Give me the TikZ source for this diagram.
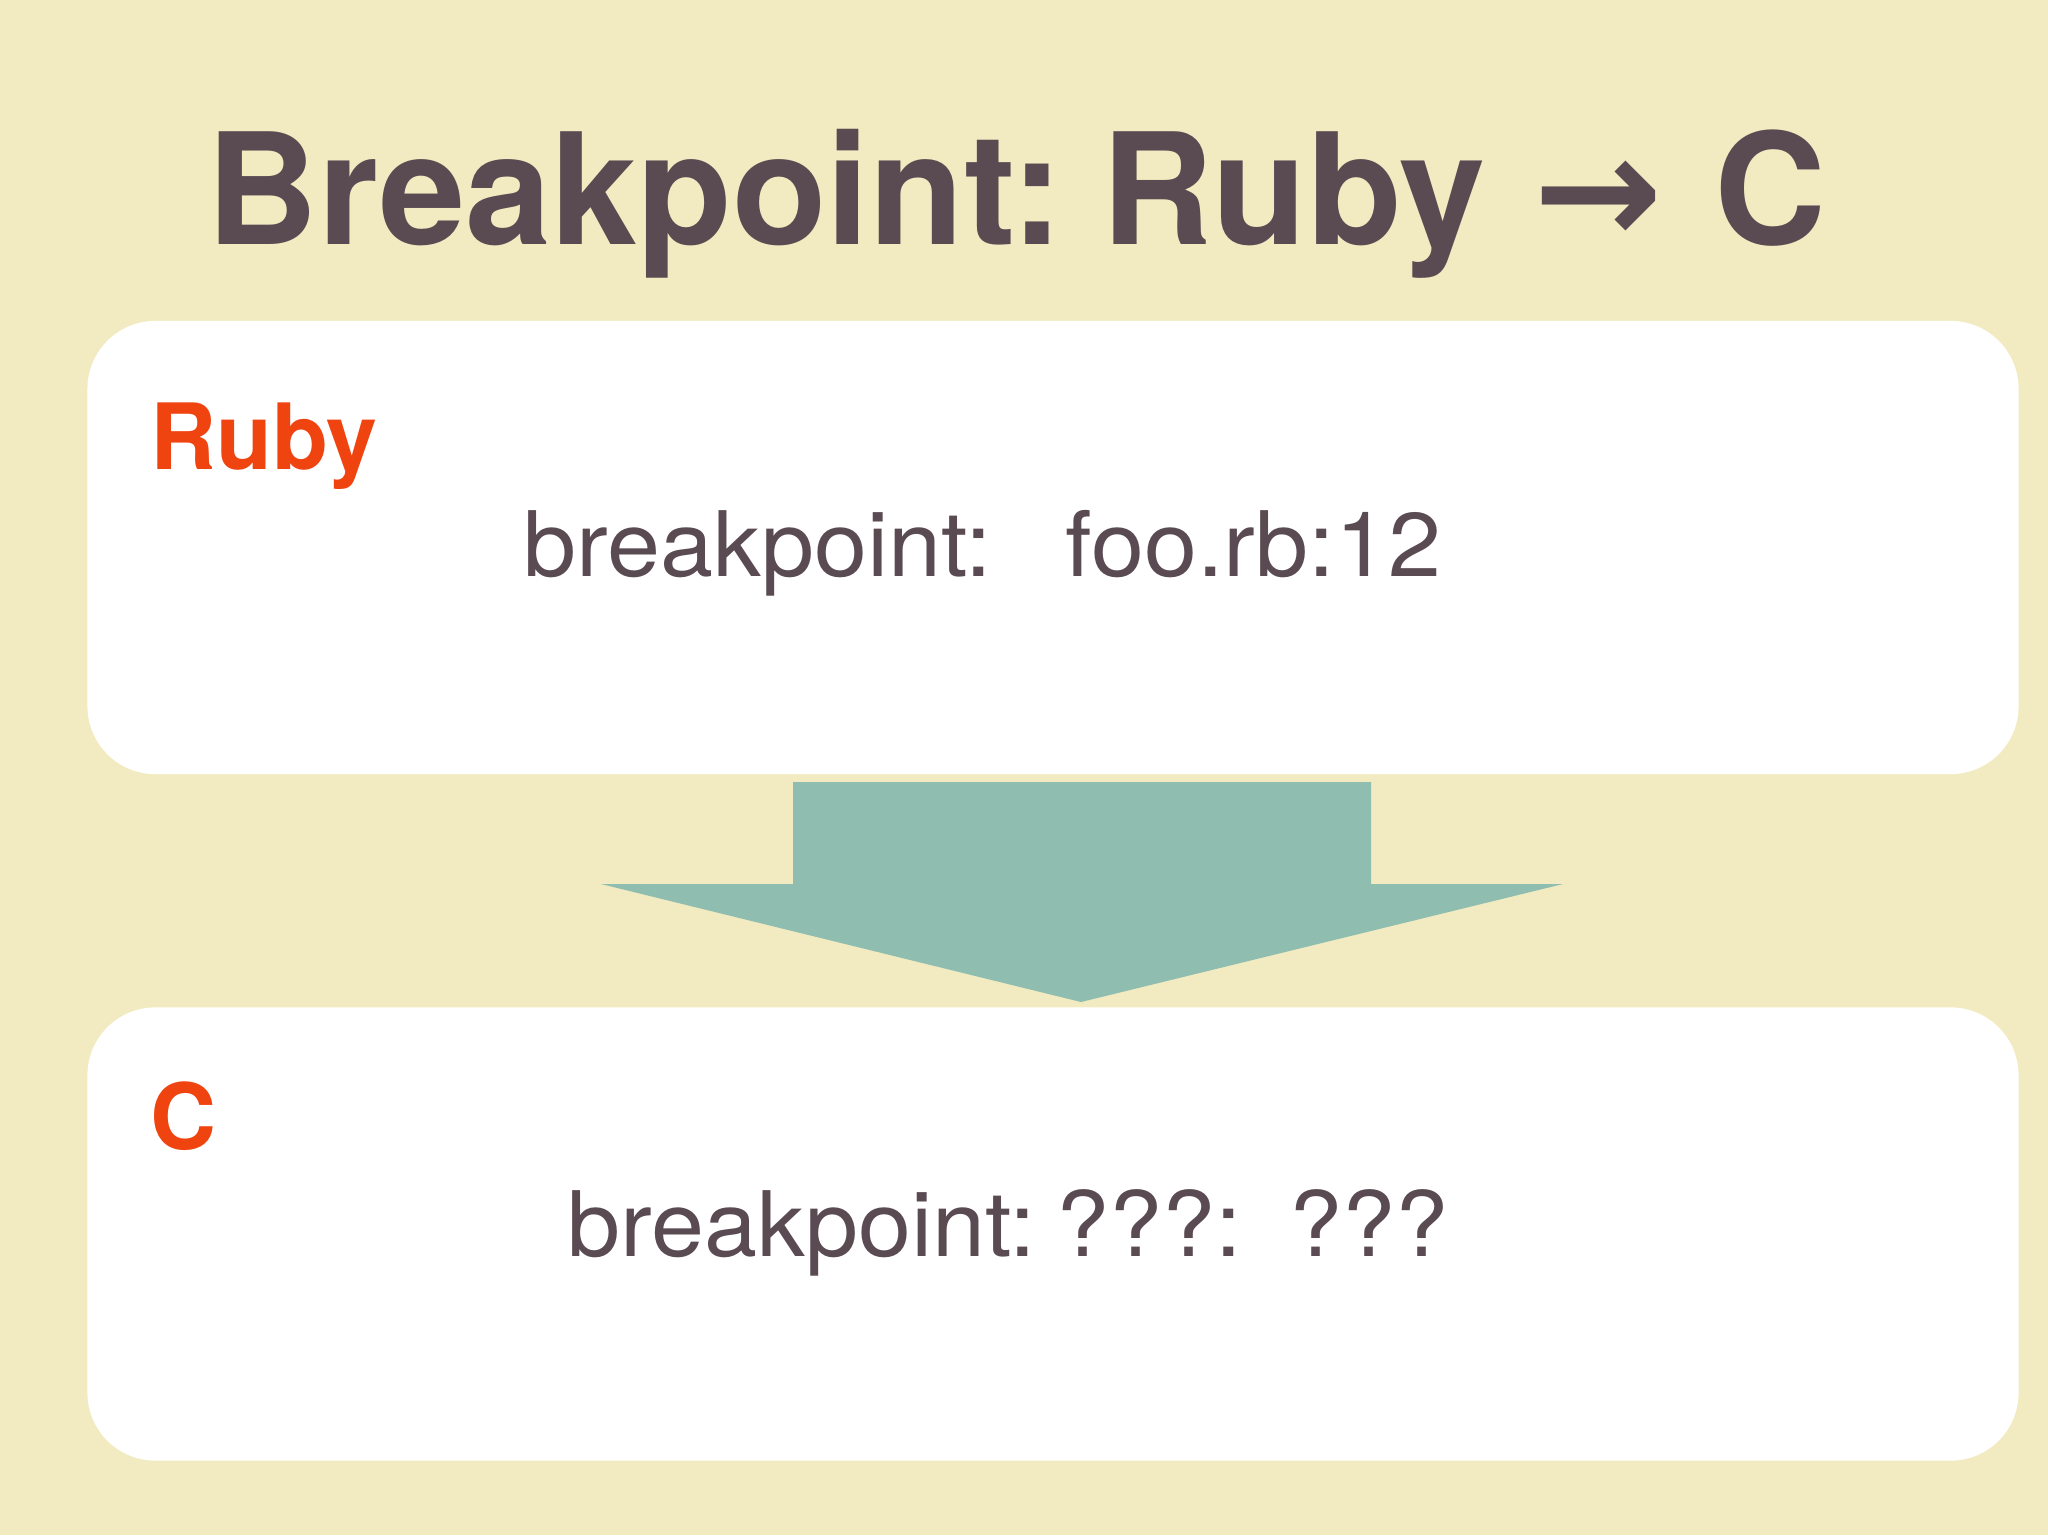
\documentclass[tikz,border=0pt]{standalone}
\usepackage{fontspec}
\setmainfont{TeX Gyre Heros}
\newfontfamily\codefont[FakeStretch=1.055]{TeX Gyre Heros}
\newfontfamily\arrowfont{DejaVu Sans}
\usetikzlibrary{positioning}

\definecolor{bgcream}{RGB}{242,235,193}
\definecolor{titlegray}{RGB}{90,75,82}
\definecolor{langred}{RGB}{240,68,16}
\definecolor{arrowteal}{RGB}{143,189,176}

\tikzset{
  panel/.style={fill=white, rounded corners=0.68cm, minimum width=19.3cm,
    minimum height=4.53cm, inner sep=0pt},
  langlabel/.style={anchor=base west, inner sep=0pt, text=langred,
    font=\fontsize{26}{30}\selectfont\bfseries},
  codeline/.style={anchor=base west, inner sep=0pt, text=titlegray,
    font=\codefont\fontsize{25.7}{30}\selectfont},
}

\begin{document}
\begin{tikzpicture}[x=0.01cm, y=-0.01cm]
    %%% Background %%%
    \fill[bgcream] (0,0) rectangle (2048,1535);

    %%% Title %%%
    \node[anchor=base west, inner sep=0pt, text=titlegray,
      font=\fontsize{44}{50}\selectfont\bfseries] (title) at (206,244)
      {Breakpoint:\hspace{0.38cm}Ruby\hspace{0.48cm}{\arrowfont →}\hspace{0.52cm}C};

    %%% Panels %%%
    \node[panel] (rubybox) at (1053,547.5) {};
    \node[panel] (cbox) at (1053,1234) {};

    %%% Labels %%%
    \node[langlabel] (rubylabel) at (150,469) {Ruby};
    \node[langlabel] (clabel) at (150,1149) {C};

    %%% Code lines %%%
    \node[codeline] (rubyline) at (523,576) {breakpoint:\hspace{0.74cm}foo.rb:12};
    \node[codeline] (cline) at (567,1256) {breakpoint:\hspace{0.21cm}???:\hspace{0.47cm}???};

    %%% Block arrow %%%
    \fill[arrowteal] (793,782) -- (1371,782) -- (1371,884) -- (1563,884)
      -- (1081,1002) -- (601,884) -- (793,884) -- cycle; % Ruby -> C
\end{tikzpicture}
\end{document}
